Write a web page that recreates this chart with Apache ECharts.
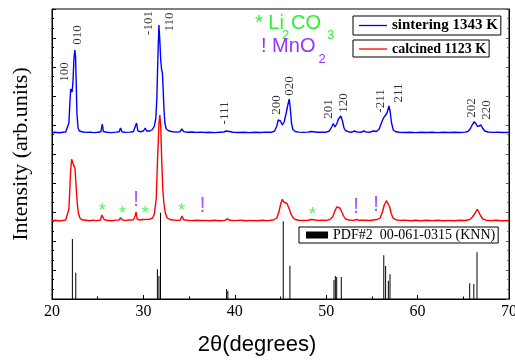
<!DOCTYPE html>
<html>
<head>
<meta charset="utf-8">
<script src="https://cdn.jsdelivr.net/npm/echarts@6/dist/echarts.min.js"></script>
<style>html,body{margin:0;padding:0;background:#fff;}#c{width:515px;height:363px;}</style>
</head>
<body>
<div id="c"></div>
<script>
// ---- data (2theta, intensity in arbitrary units) ----
const xTicks = [20, 30, 40, 50, 60, 70];

const sintering = [[20,166.5],[20.4,166.8],[20.8,166.3],[21.2,166.7],[21.5,167],[21.7,168.5],[21.85,176],[21.95,195],[22.05,210],[22.12,212],[22.2,207],[22.3,218],[22.4,240],[22.5,249],[22.58,242],[22.65,215],[22.73,185],[22.85,171],[23.0,168],[23.4,167],[23.8,166.6],[24.2,166.9],[24.6,166.4],[25.0,166.8],[25.35,167.2],[25.5,175],[25.62,167.5],[26.0,166.7],[26.5,166.4],[27.0,166.9],[27.35,167.3],[27.5,171],[27.65,167.2],[28.0,166.6],[28.5,166.9],[28.9,167.2],[29.1,169],[29.25,176],[29.4,168],[29.7,167.3],[30.0,168],[30.2,171],[30.35,168],[30.7,168],[31.0,169.5],[31.2,173],[31.35,180],[31.47,200],[31.58,240],[31.7,274],[31.8,258],[31.9,238],[32.0,229],[32.08,226],[32.15,212],[32.25,190],[32.35,176],[32.5,170],[32.8,168],[33.2,167.3],[33.6,166.9],[34.0,167.2],[34.2,170],[34.4,167.4],[34.8,166.8],[35.3,167],[35.8,166.6],[36.3,166.9],[36.8,166.5],[37.3,166.8],[37.8,166.4],[38.3,166.7],[38.8,167],[39.05,168],[39.2,169.5],[39.4,167.5],[39.8,166.7],[40.4,166.5],[41,166.8],[41.6,166.4],[42.2,166.7],[42.8,166.5],[43.4,166.9],[44.0,166.7],[44.35,168],[44.6,173],[44.75,179],[44.88,181],[45.0,178],[45.2,174],[45.4,177],[45.6,185],[45.8,194],[45.96,200],[46.08,190],[46.2,176],[46.35,169.5],[46.6,167.5],[47.0,166.9],[47.5,166.6],[48.0,166.9],[48.35,167.5],[48.5,168.5],[48.65,167.3],[49.0,166.7],[49.5,166.9],[50.0,166.8],[50.35,168],[50.6,172],[50.78,175.5],[50.96,172],[51.15,175],[51.35,180],[51.6,183],[51.78,178],[51.95,171],[52.1,168.5],[52.4,167.3],[52.8,166.8],[53.1,168],[53.4,166.9],[53.8,166.7],[54.1,168],[54.4,166.9],[54.8,166.8],[55.15,168],[55.5,167.5],[55.8,170],[56.0,175],[56.25,180.7],[56.45,181.5],[56.65,186],[56.87,193],[57.0,187],[57.15,176],[57.34,169],[57.6,167.3],[58,166.8],[58.6,166.5],[59.2,166.8],[59.8,166.4],[60.4,166.7],[61,166.5],[61.6,166.8],[62.2,166.4],[62.8,166.7],[63.4,166.5],[64,166.8],[64.6,166.5],[65.2,166.9],[65.5,167.5],[65.75,170],[66.0,174.5],[66.2,177.3],[66.4,175],[66.57,172.3],[66.75,173.5],[66.94,174],[67.1,171],[67.35,168],[67.7,167],[68.2,166.6],[68.8,166.8],[69.4,166.5],[70,166.6]];

const calcined = [[20,78.3],[20.4,78.8],[20.8,78],[21.2,78.6],[21.5,79],[21.7,81],[21.85,90],[21.95,110],[22.05,130],[22.15,139.7],[22.25,137],[22.35,135.5],[22.42,136],[22.52,130],[22.62,115],[22.75,97],[22.88,86],[23.05,81],[23.3,79.3],[23.7,78.8],[24.1,78.2],[24.5,78.9],[24.9,78.4],[25.3,79],[25.45,84],[25.55,86],[25.7,79.5],[26,78.7],[26.5,78.3],[27,78.9],[27.35,79],[27.5,81.5],[27.65,79.2],[28,78.6],[28.5,79],[28.9,79.2],[29.1,83],[29.2,87],[29.32,80],[29.6,79],[30.0,79.5],[30.2,81.5],[30.4,79.6],[30.7,79.8],[31.0,81],[31.2,85],[31.4,100],[31.55,140],[31.7,175],[31.8,184],[31.9,172],[32.0,140],[32.12,110],[32.25,95],[32.4,86],[32.6,81],[32.9,79.5],[33.3,79],[33.7,78.6],[34.05,79],[34.22,83],[34.4,79.2],[34.8,78.8],[35.3,78.4],[35.8,78.8],[36.3,78.5],[36.5,79.5],[36.7,78.6],[37.2,78.3],[37.8,78.8],[38.4,78.2],[38.9,78.6],[39.2,80.2],[39.45,78.7],[40,78.4],[40.6,78.9],[41.2,78.2],[41.8,78.6],[42.4,78.3],[43,78.7],[43.6,78.4],[44.2,79],[44.6,81],[44.85,88],[45.05,96],[45.2,99.7],[45.35,97],[45.5,95],[45.7,95.7],[45.85,94],[46.0,89],[46.15,85],[46.35,81.5],[46.6,79.5],[47,78.8],[47.5,78.5],[48,78.7],[48.35,79.5],[48.5,80.5],[48.65,79.2],[49,78.6],[49.5,78.9],[50,78.6],[50.4,79.5],[50.7,82],[50.95,88],[51.15,92],[51.33,93],[51.5,91],[51.7,87],[51.9,83],[52.1,80],[52.5,79],[53,78.6],[53.3,79.5],[53.6,78.7],[54.2,78.8],[54.8,78.5],[55.3,79.2],[55.6,79.5],[55.9,81],[56.15,87],[56.35,94],[56.6,98.3],[56.8,97],[56.95,92],[57.1,86],[57.3,81],[57.6,79.3],[58,78.6],[58.6,78.9],[59.2,78.3],[59.8,78.7],[60.4,78.3],[61,78.8],[61.6,78.4],[62.2,78.7],[62.8,78.2],[63.4,78.6],[64,78.3],[64.6,78.8],[65.2,78.5],[65.7,79.5],[66,82],[66.3,86],[66.53,89.7],[66.7,87],[66.9,83],[67.15,80],[67.5,78.8],[68,78.4],[68.6,78.7],[69.2,78.2],[70,78.5]];

const pdfSticks = [[22.23,60],[22.6,26.3],[31.53,29.7],[31.7,23],[31.87,86.3],[39.1,10],[39.24,8.3],[45.3,77.7],[46.03,33.3],[50.85,19],[51.0,23],[51.15,22],[51.65,22],[56.3,43.7],[56.5,33],[56.8,18.3],[56.98,24.7],[65.7,15.7],[66.15,15],[66.5,46.7]];

const peakNames = ['100','010','-101','110','-111','200','020','201','120','-211','211','202','220'];
const peakX =     [21.42, 22.84, 30.61, 32.91, 38.93, 44.58, 46.04, 50.23, 51.87, 56.0, 57.89, 65.92, 67.56];
const peakY =     [227, 264, 276, 277, 186, 194, 213, 190, 196, 198, 206, 191, 189];

const li2co3Marks = [[25.5,91.7],[27.7,89],[30.2,89],[34.2,91.7],[48.5,88.3]];
const mno2Marks = [[29.2,98.7],[36.46,93],[53.26,92],[55.45,94]];

const nameSint = 'sintering 1343 K';
const nameCalc = 'calcined 1123 K';
const namePdf = 'PDF#2  00-061-0315 (KNN)';

const SERIF = 'Liberation Serif';
const SANS = 'Liberation Sans';

const chart = echarts.init(document.getElementById('c'), null, {renderer: 'canvas'});

const peakData = peakNames.map((n, i) => [peakX[i], peakY[i], n]);

chart.setOption({
  animation: false,
  backgroundColor: '#fff',
  grid: {left: 52, right: 6, top: 9, bottom: 64, show: true, borderColor: '#000', borderWidth: 1,
    containLabel: false, outerBoundsMode: 'none'},
  xAxis: {
    type: 'value', min: xTicks[0], max: xTicks[xTicks.length - 1], interval: 10,
    axisLine: {show: true, lineStyle: {color: '#000', width: 1}},
    axisTick: {show: true, inside: true, length: 4, lineStyle: {color: '#000'}},
    minorTick: {show: true, splitNumber: 2, length: 2.5, lineStyle: {color: '#000'}},
    splitLine: {show: false},
    axisLabel: {color: '#000', fontFamily: SERIF, fontSize: 16, margin: 5, hideOverlap: false}
  },
  yAxis: [{
    type: 'value', min: 0, max: 290, interval: 29, position: 'left',
    axisLine: {show: true, lineStyle: {color: '#000'}},
    axisTick: {show: true, inside: true, length: 4, lineStyle: {color: '#000'}},
    minorTick: {show: true, splitNumber: 3, length: 2, lineStyle: {color: '#000'}},
    splitLine: {show: false},
    axisLabel: {show: false},
    name: 'Intensity (arb.units)', nameLocation: 'middle', nameGap: 20,
    nameTextStyle: {color: '#000', fontFamily: SERIF, fontSize: 22}
  }, {
    type: 'value', min: 0, max: 290, interval: 29, position: 'right',
    axisLine: {show: true, lineStyle: {color: '#000'}},
    axisTick: {show: true, inside: true, length: 3, lineStyle: {color: '#555'}},
    minorTick: {show: true, splitNumber: 3, length: 2, lineStyle: {color: '#777'}},
    splitLine: {show: false},
    axisLabel: {show: false}
  }],
  legend: [{
    data: [{name: nameSint, icon: 'rect'}], left: 353, top: 16, orient: 'horizontal', selectedMode: false,
    borderColor: '#000', borderWidth: 1, padding: [2, 3, 2, 6],
    itemWidth: 28, itemHeight: 1.3,
    textStyle: {fontFamily: SERIF, fontWeight: 'bold', fontSize: 15, color: '#000'}
  }, {
    data: [{name: nameCalc, icon: 'rect'}], left: 353, top: 40, orient: 'horizontal', selectedMode: false,
    borderColor: '#000', borderWidth: 1, padding: [2, 3, 1, 6],
    itemWidth: 28, itemHeight: 1.3,
    textStyle: {fontFamily: SERIF, fontWeight: 'bold', fontSize: 14, color: '#000'}
  }, {
    data: [{name: namePdf, icon: 'rect'}], left: 299, top: 227, orient: 'horizontal', selectedMode: false,
    borderColor: '#000', borderWidth: 1, padding: [1, 3, 1, 7],
    itemWidth: 22, itemHeight: 7,
    textStyle: {fontFamily: SERIF, fontSize: 14, color: '#000'}
  }],
  series: [{
    name: namePdf, type: 'bar', data: pdfSticks, barWidth: 1,
    itemStyle: {color: '#000'}, z: 1, silent: true
  }, {
    name: nameCalc, type: 'line', data: calcined, symbol: 'none', smooth: false,
    lineStyle: {color: '#ff0000', width: 1.4}, itemStyle: {color: '#ff0000'}, z: 3, silent: true
  }, {
    name: nameSint, type: 'line', data: sintering, symbol: 'none', smooth: false,
    lineStyle: {color: '#0000ff', width: 1.4}, itemStyle: {color: '#0000ff'}, z: 4, silent: true
  }, {
    name: 'peaks', type: 'scatter', data: peakData, symbolSize: 1,
    itemStyle: {color: 'rgba(0,0,0,0)'}, silent: true, z: 5,
    label: {show: true, position: 'inside', rotate: 90, formatter: p => p.data[2],
      fontFamily: SERIF, fontSize: 13, color: '#000', align: 'center', verticalAlign: 'middle'}
  }, {
    name: 'li2co3', type: 'scatter', data: li2co3Marks, symbolSize: 1,
    itemStyle: {color: 'rgba(0,0,0,0)'}, silent: true, z: 5,
    label: {show: true, position: 'inside', formatter: '*', offset: [0, 4],
      fontFamily: SANS, fontSize: 18, color: '#33ee33', align: 'center', verticalAlign: 'middle'}
  }, {
    name: 'mno2', type: 'scatter', data: mno2Marks, symbolSize: 1,
    itemStyle: {color: 'rgba(0,0,0,0)'}, silent: true, z: 5,
    label: {show: true, position: 'inside', formatter: '!',
      fontFamily: SANS, fontSize: 22, color: '#9933ff', align: 'center', verticalAlign: 'middle'}
  }],
  graphic: [
    {type: 'text', x: 255, y: 23.5, style: {text: '* Li', font: '20px "Liberation Sans"', fill: '#33ee33', align: 'left', verticalAlign: 'middle'}},
    {type: 'text', x: 282, y: 35.7, style: {text: '2', font: '13px "Liberation Sans"', fill: '#33ee33', align: 'left', verticalAlign: 'middle'}},
    {type: 'text', x: 291, y: 23.5, style: {text: 'CO', font: '20px "Liberation Sans"', fill: '#33ee33', align: 'left', verticalAlign: 'middle'}},
    {type: 'text', x: 327, y: 35, style: {text: '3', font: '13px "Liberation Sans"', fill: '#33ee33', align: 'left', verticalAlign: 'middle'}},
    {type: 'text', x: 261, y: 46.3, style: {text: '! MnO', font: '20px "Liberation Sans"', fill: '#9933ff', align: 'left', verticalAlign: 'middle'}},
    {type: 'text', x: 318.5, y: 59.2, style: {text: '2', font: '13px "Liberation Sans"', fill: '#9933ff', align: 'left', verticalAlign: 'middle'}},
    {type: 'text', x: 257, y: 345, style: {text: '2θ(degrees)', font: '22px "Liberation Sans"', fill: '#000', align: 'center', verticalAlign: 'middle'}}
  ]
});
</script>
</body>
</html>
